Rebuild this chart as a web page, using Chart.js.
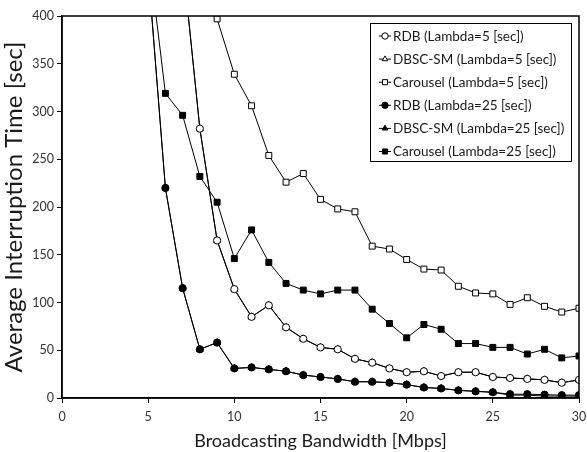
<!DOCTYPE html>
<html>
<head>
<meta charset="utf-8">
<script src="https://cdn.jsdelivr.net/npm/chart.js@4"></script>
<style>
  html, body { margin: 0; padding: 0; background: #fff; }
  #wrap { width: 587px; height: 452px; }
</style>
</head>
<body>
<div id="wrap"><canvas id="myChart" width="587" height="452"></canvas></div>
<script>
// bandwidth in Mbps, values in seconds (null = off the chart / not drawn)
const bandwidth = [5, 6, 7, 8, 9, 10, 11, 12, 13, 14, 15, 16, 17, 18, 19, 20, 21, 22, 23, 24, 25, 26, 27, 28, 29, 30];
const rdb5 = [null, null, 458, 282, 165, 114, 85, 97, 74, 62, 53, 51, 41, 37, 31, 27, 28, 23, 27, 27, 22, 21, 20, 19, 16, 19];
const dbsc5 = [null, null, 458, 282, 165, 114, 85, 97, 74, 62, 53, 51, 41, 37, 31, 27, 28, 23, 27, 27, 22, 21, 20, 19, 16, 19];
const carousel5 = [null, null, null, null, 397, 339, 306, 254, 226, 235, 208, 198, 195, 159, 156, 145, 135, 134, 117, 110, 109, 98, 105, 96, 90, 94];
const rdb25 = [448, 220, 115, 51, 58, 31, 32, 30, 28, 24, 22, 20, 17, 17, 16, 14, 11, 10, 8, 7, 6, 4, 4, 3.5, 3, 3];
const dbsc25 = [448, 220, 115, 51, 58, 31, 32, 30, 28, 24, 22, 20, 17, 17, 16, 14, 11, 10, 8, 7, 6, 3, 3, 2, 2, 2];
const carousel25 = [469, 319, 296, 232, 205, 146, 176, 142, 120, 113, 109, 113, 113, 93, 78, 63, 77, 72, 57, 57, 53, 53, 46, 51, 42, 44];

const seriesNames = [
  'RDB (Lambda=5 [sec])',
  'DBSC-SM (Lambda=5 [sec])',
  'Carousel (Lambda=5 [sec])',
  'RDB (Lambda=25 [sec])',
  'DBSC-SM (Lambda=25 [sec])',
  'Carousel (Lambda=25 [sec])'
];

const ctx = document.getElementById('myChart');
const textFont = 'Lato, "Liberation Sans", sans-serif';
let chart;

function points(values) {
  return bandwidth.map((b, i) => ({ x: b, y: values[i] }));
}

function makeSet(idx, values, style, filled) {
  return {
    label: seriesNames[idx],
    data: points(values),
    borderColor: '#000',
    borderWidth: 1,
    pointStyle: style,
    pointRadius: style === 'rect' ? 4.2 : (style === 'triangle' ? 4 : 3.6),
    pointBorderWidth: 1,
    pointBorderColor: '#000',
    pointBackgroundColor: filled ? '#000' : '#fff',
    backgroundColor: filled ? '#000' : '#fff',
    tension: 0,
    spanGaps: false
  };
}

// frame + legend box drawn on top of the plot
const framePlugin = {
  id: 'frameLegend',
  afterDatasetsDraw(chart) {
    const c = chart.ctx;
    const a = chart.chartArea;
    c.save();
    c.strokeStyle = '#000';
    c.lineWidth = 1.5;
    c.strokeRect(a.left, a.top, a.right - a.left, a.bottom - a.top);

    // legend
    const boxX = 370.5, boxY = 23.5, boxW = 201, boxH = 138;
    c.fillStyle = '#fff';
    c.fillRect(boxX, boxY, boxW, boxH);
    c.lineWidth = 1;
    c.strokeRect(boxX, boxY, boxW, boxH);
    c.font = '13.5px ' + textFont;
    c.textBaseline = 'middle';
    chart.data.datasets.forEach((ds, i) => {
      const y = 36 + i * 23.1;
      c.strokeStyle = '#000';
      c.lineWidth = 1;
      c.beginPath();
      c.moveTo(379, y);
      c.lineTo(391, y);
      c.stroke();
      c.fillStyle = ds.pointBackgroundColor;
      Chart.helpers.drawPoint(c, {
        pointStyle: ds.pointStyle,
        radius: ds.pointStyle === 'rect' ? 3.6 : 3.2,
        rotation: 0,
        borderWidth: 1
      }, 385, y);
      c.fillStyle = '#1a1a1a';
      c.textAlign = 'left';
      c.fillText(ds.label, 393, y + 0.5);
    });
    c.restore();
  }
};

chart = new Chart(ctx, {
  type: 'line',
  data: {
    datasets: [
      makeSet(0, rdb5, 'circle', false),
      makeSet(1, dbsc5, 'triangle', false),
      makeSet(2, carousel5, 'rect', false),
      makeSet(3, rdb25, 'circle', true),
      makeSet(4, dbsc25, 'triangle', true),
      makeSet(5, carousel25, 'rect', true)
    ]
  },
  options: {
    responsive: false,
    animation: false,
    devicePixelRatio: 1,
    layout: { padding: { top: 16, right: 8, left: 0, bottom: 0 } },
    plugins: {
      legend: { display: false },
      tooltip: { enabled: false }
    },
    scales: {
      x: {
        type: 'linear',
        min: 0,
        max: 30,
        ticks: { stepSize: 5, color: '#333', font: { family: textFont, size: 12.5 }, padding: 6 },
        grid: { display: true, drawOnChartArea: false, drawTicks: true, tickLength: 5, color: '#000', lineWidth: 1 },
        border: { display: true, color: '#000', width: 1.5 },
        title: {
          display: true,
          text: 'Broadcasting Bandwidth [Mbps]',
          color: '#1a1a1a',
          font: { family: textFont, size: 18 },
          padding: { top: 0, bottom: 0 }
        },
        afterFit(scale) {
          scale.height = 54;
          scale.paddingLeft = 0;
          scale.paddingRight = 0;
        }
      },
      y: {
        min: 0,
        max: 400,
        ticks: { stepSize: 50, color: '#333', font: { family: textFont, size: 12.5 }, padding: 3 },
        grid: { display: true, drawOnChartArea: false, drawTicks: true, tickLength: 5, color: '#000', lineWidth: 1 },
        border: { display: true, color: '#000', width: 1.5 },
        title: {
          display: true,
          text: 'Average Interruption Time [sec]',
          color: '#1a1a1a',
          font: { family: textFont, size: 24 },
          padding: { top: 0, bottom: 0 }
        },
        afterFit(scale) {
          scale.width = 62;
          scale.paddingTop = 0;
          scale.paddingBottom = 0;
        }
      }
    }
  },
  plugins: [framePlugin]
});
</script>
</body>
</html>
